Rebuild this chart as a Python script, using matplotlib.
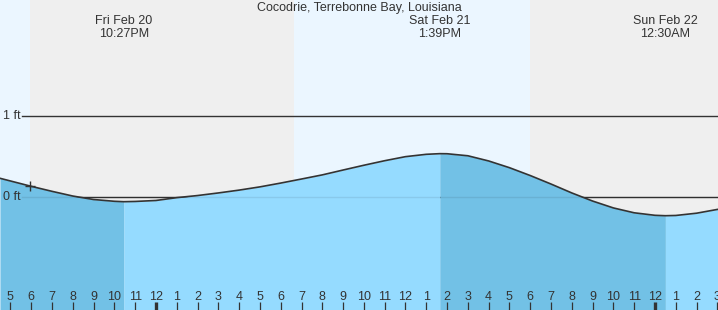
import numpy as np
import matplotlib.pyplot as plt
from matplotlib.transforms import blended_transform_factory

# hours counted from Fri Feb 20 00:00
hours = [16.5, 17, 18, 19, 20, 21, 22, 22.45, 23, 24, 25, 26, 27, 28, 29, 30,
         31, 32, 33, 34, 35, 36, 37, 37.65, 38, 39, 40, 41, 42, 43, 44, 45,
         46, 47, 48, 48.5, 49, 50, 51.03]
heights = [0.231, 0.198, 0.132, 0.070, 0.012, -0.031, -0.053, -0.058, -0.055,
           -0.043, -0.008, 0.018, 0.050, 0.085, 0.125, 0.172, 0.222, 0.273,
           0.333, 0.392, 0.448, 0.498, 0.527, 0.535, 0.534, 0.509, 0.445,
           0.362, 0.265, 0.160, 0.050, -0.050, -0.135, -0.195, -0.226, -0.231,
           -0.228, -0.200, -0.152]

# high / low tides
extreme_hours = [22.45, 37.65, 48.5]
extreme_days = ["Fri Feb 20", "Sat Feb 21", "Sun Feb 22"]
extreme_times = ["10:27PM", "1:39PM", "12:30AM"]

# sunset / sunrise
sun_hours = [17.94, 30.64, 41.99]

tick_hours = list(range(17, 52))
tick_labels = [str((h - 1) % 12 + 1) for h in tick_hours]

title = "Cocodrie, Terrebonne Bay, Louisiana"

x_min, x_max = 16.5, 51.03
y_min, y_max = -1.395, 2.432

plt.rcParams['font.family'] = ['Liberation Sans', 'DejaVu Sans']
txt_color = '#333333'
day_color = '#ebf6ff'
night_color = '#efefef'
fall_color = '#72c1e6'
rise_color = '#95dbff'

fig = plt.figure(figsize=(7.18, 3.1), dpi=100)
ax = fig.add_axes([0, 0, 1, 1])
ax.set_xlim(x_min, x_max)
ax.set_ylim(y_min, y_max)
ax.axis('off')

# day / night background
bounds = [x_min] + sun_hours + [x_max]
for i in range(len(bounds) - 1):
    c = day_color if i % 2 == 0 else night_color
    ax.axvspan(bounds[i], bounds[i + 1], color=c, lw=0, zorder=0)

# reference lines
for lvl in [0, 1]:
    ax.axhline(lvl, xmin=22 / 718, xmax=1, color=txt_color, lw=1.0, zorder=1)
ax.axhline(0, xmin=22 / 718, xmax=1, color='k', lw=1.0, alpha=0.08, zorder=4)

h = np.array(hours)
v = np.array(heights)

# fill: falling tide darker, rising tide lighter
seg = [x_min] + extreme_hours + [x_max]
for i in range(len(seg) - 1):
    c = fall_color if i % 2 == 0 else rise_color
    mask = (h >= seg[i]) & (h <= seg[i + 1])
    ax.fill_between(h[mask], v[mask], y_min, color=c, lw=0, zorder=2)

ax.plot(h, v, color=txt_color, lw=1.2, zorder=5, solid_capstyle='round',
        solid_joinstyle='round')

# marker on the curve at sunset
ax.plot(sun_hours[0], np.interp(sun_hours[0], h, v), marker='+', ms=7,
        mew=1.0, color=txt_color, zorder=6)

# texts
ax.text((x_min + x_max) / 2, y_max - 0.03, title, ha='center', va='top',
        fontsize=9, color=txt_color)
for eh, d, t in zip(extreme_hours, extreme_days, extreme_times):
    ax.text(eh, y_max - 0.19, d, ha='center', va='top', fontsize=9,
            color=txt_color)
    ax.text(eh, y_max - 0.35, t, ha='center', va='top', fontsize=9,
            color=txt_color)

trans = blended_transform_factory(ax.transAxes, ax.transData)
ax.text(0.004, 1, "1 ft", transform=trans, ha='left', va='center',
        fontsize=9, color=txt_color)
ax.text(0.004, 0, "0 ft", transform=trans, ha='left', va='center',
        fontsize=9, color=txt_color)

# hour ticks along the bottom
tt = blended_transform_factory(ax.transData, ax.transAxes)
for th, tl in zip(tick_hours, tick_labels):
    thick = th % 24 == 0
    ax.plot([th, th], [0, 8 / 310], transform=tt, color=txt_color,
            lw=2.4 if thick else 0.9, solid_capstyle='butt', zorder=6)
    ax.text(th, 10 / 310, tl, transform=tt, ha='center', va='baseline',
            fontsize=9, color=txt_color)

fig.savefig('out.png', dpi=100)
